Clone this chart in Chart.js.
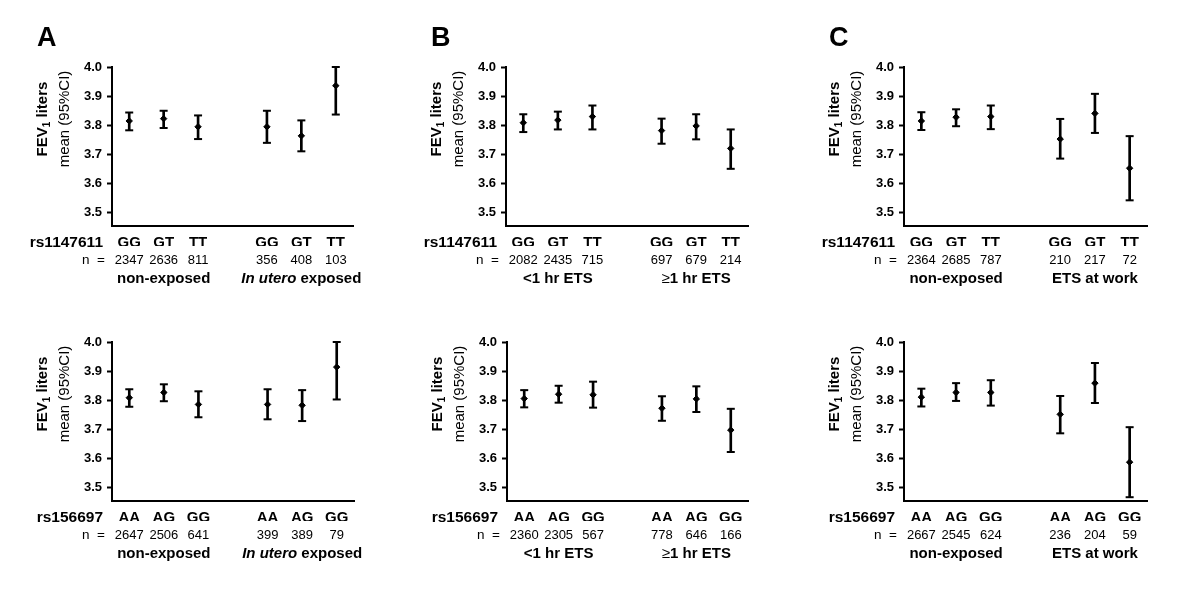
<!DOCTYPE html>
<html lang="en">
<head>
  <meta charset="UTF-8">
  <title>FEV1 by genotype and ETS exposure</title>
  <script src="https://cdn.jsdelivr.net/npm/chart.js"></script>
  <style>
    body { margin: 0; background: #fff; }
    #wrap { position: relative; width: 1200px; height: 596px; }
    #wrap canvas { position: absolute; }
  </style>
</head>
<body>

<div id="wrap"></div>

<script>
// categories
var snps = ['rs1147611', 'rs156697'];
var genoTop = ['GG', 'GT', 'TT', '', 'GG', 'GT', 'TT'];
var genoBottom = ['AA', 'AG', 'GG', '', 'AA', 'AG', 'GG'];
var panelLetters = ['A', 'B', 'C'];
var groupsA = ['non-exposed', 'In utero exposed'];
var groupsB = ['<1 hr ETS', '≥1 hr ETS'];
var groupsC = ['non-exposed', 'ETS at work'];

// y axis ticks
var yTicks = [3.5, 3.6, 3.7, 3.8, 3.9, 4.0];
var yMin = 3.455;
var yMax = 4.0;

// n per genotype (null = gap between the two groups)
var nA1 = [2347, 2636, 811, null, 356, 408, 103];
var nB1 = [2082, 2435, 715, null, 697, 679, 214];
var nC1 = [2364, 2685, 787, null, 210, 217, 72];
var nA2 = [2647, 2506, 641, null, 399, 389, 79];
var nB2 = [2360, 2305, 567, null, 778, 646, 166];
var nC2 = [2667, 2545, 624, null, 236, 204, 59];

// FEV1 means and 95% CI
var meanA1 = [3.815, 3.823, 3.795, null, 3.795, 3.764, 3.936];
var lowA1  = [3.783, 3.791, 3.753, null, 3.740, 3.711, 3.837];
var highA1 = [3.844, 3.850, 3.834, null, 3.850, 3.817, 4.000];

var meanB1 = [3.809, 3.818, 3.830, null, 3.782, 3.798, 3.721];
var lowB1  = [3.777, 3.786, 3.786, null, 3.737, 3.752, 3.651];
var highB1 = [3.838, 3.847, 3.868, null, 3.823, 3.838, 3.786];

var meanC1 = [3.815, 3.828, 3.830, null, 3.753, 3.841, 3.653];
var lowC1  = [3.784, 3.797, 3.787, null, 3.686, 3.774, 3.543];
var highC1 = [3.845, 3.855, 3.868, null, 3.822, 3.908, 3.763];

var meanA2 = [3.809, 3.827, 3.786, null, 3.786, 3.783, 3.914];
var lowA2  = [3.778, 3.797, 3.742, null, 3.735, 3.729, 3.803];
var highA2 = [3.838, 3.855, 3.831, null, 3.838, 3.835, 4.000];

var meanB2 = [3.806, 3.821, 3.819, null, 3.773, 3.805, 3.698];
var lowB2  = [3.776, 3.792, 3.775, null, 3.730, 3.760, 3.623];
var highB2 = [3.835, 3.850, 3.864, null, 3.814, 3.848, 3.771];

var meanC2 = [3.811, 3.827, 3.827, null, 3.752, 3.859, 3.588];
var lowC2  = [3.779, 3.798, 3.782, null, 3.687, 3.791, 3.468];
var highC2 = [3.840, 3.859, 3.869, null, 3.815, 3.928, 3.708];

var FONT = "'Liberation Sans', Arial, sans-serif";
Chart.defaults.font.family = FONT;
Chart.defaults.color = '#000';

// panel list: plot box in page pixels
var panels = [
  { col: 0, row: 0, letter: panelLetters[0], snp: snps[0], geno: genoTop, groups: groupsA, n: nA1, mean: meanA1, low: lowA1, high: highA1, box: { left: 112, top: 67, right: 353, bottom: 226 } },
  { col: 1, row: 0, letter: panelLetters[1], snp: snps[0], geno: genoTop, groups: groupsB, n: nB1, mean: meanB1, low: lowB1, high: highB1, box: { left: 506, top: 67, right: 748, bottom: 226 } },
  { col: 2, row: 0, letter: panelLetters[2], snp: snps[0], geno: genoTop, groups: groupsC, n: nC1, mean: meanC1, low: lowC1, high: highC1, box: { left: 904, top: 67, right: 1147, bottom: 226 } },
  { col: 0, row: 1, letter: null, snp: snps[1], geno: genoBottom, groups: groupsA, n: nA2, mean: meanA2, low: lowA2, high: highA2, box: { left: 112, top: 342, right: 354, bottom: 501 } },
  { col: 1, row: 1, letter: null, snp: snps[1], geno: genoBottom, groups: groupsB, n: nB2, mean: meanB2, low: lowB2, high: highB2, box: { left: 507, top: 342, right: 748, bottom: 501 } },
  { col: 2, row: 1, letter: null, snp: snps[1], geno: genoBottom, groups: groupsC, n: nC2, mean: meanC2, low: lowC2, high: highC2, box: { left: 904, top: 342, right: 1147, bottom: 501 } }
];

var CW = 400, CH = 298, XAXIS_H = 20;

// split a group label into styled pieces
function richPieces(text) {
  if (text.indexOf('In utero') === 0) {
    return [{ t: 'In utero', f: 'italic bold 15px ' + FONT }, { t: text.slice(8), f: 'bold 15px ' + FONT }];
  }
  if (text.charAt(0) === '≥') {
    return [{ t: '≥', f: '15px ' + FONT }, { t: text.slice(1), f: 'bold 15px ' + FONT }];
  }
  return [{ t: text, f: 'bold 15px ' + FONT }];
}

function drawPieces(ctx, pieces, cx, y) {
  var total = 0;
  pieces.forEach(function (p) { ctx.font = p.f; total += ctx.measureText(p.t).width; });
  var x = cx - total / 2;
  ctx.textAlign = 'left';
  pieces.forEach(function (p) {
    ctx.font = p.f;
    ctx.fillText(p.t, x, y);
    x += ctx.measureText(p.t).width;
  });
}

// text around each panel
var panelText = {
  id: 'panelText',
  afterDraw: function (chart, args, opts) {
    var p = opts.panel;
    var ctx = chart.ctx;
    var area = chart.chartArea;
    var xs = chart.scales.x;
    ctx.save();
    ctx.fillStyle = '#000';
    ctx.textBaseline = 'middle';

    if (p.letter) {
      ctx.font = 'bold 27px ' + FONT;
      ctx.textAlign = 'left';
      ctx.fillText(p.letter, area.left - 75, 39);
    }

    // y titles, rotated
    var midY = area.top + 52;
    ctx.save();
    ctx.translate(area.left - 69, midY);
    ctx.rotate(-Math.PI / 2);
    var bold = 'bold 15px ' + FONT, sub = 'bold 10px ' + FONT;
    ctx.font = bold; var w1 = ctx.measureText('FEV').width;
    ctx.font = sub; var w2 = ctx.measureText('1').width;
    ctx.font = bold; var w3 = ctx.measureText(' liters').width;
    var x0 = -(w1 + w2 + w3) / 2;
    ctx.textAlign = 'left';
    ctx.font = bold; ctx.fillText('FEV', x0, 0);
    ctx.font = sub; ctx.fillText('1', x0 + w1, 4);
    ctx.font = bold; ctx.fillText(' liters', x0 + w1 + w2, 0);
    ctx.restore();

    ctx.save();
    ctx.translate(area.left - 47, midY);
    ctx.rotate(-Math.PI / 2);
    ctx.font = '15px ' + FONT;
    ctx.textAlign = 'center';
    ctx.fillText('mean (95%CI)', 0, 0);
    ctx.restore();

    // snp name and n row
    ctx.textAlign = 'right';
    ctx.font = 'bold 15.5px ' + FONT;
    ctx.fillText(p.snp, area.left - 9, area.bottom + 17);
    ctx.font = '13.5px ' + FONT;
    ctx.fillText('n  =', area.left - 7, area.bottom + 34);

    ctx.textAlign = 'center';
    ctx.font = '13px ' + FONT;
    p.n.forEach(function (v, i) {
      if (v === null) return;
      ctx.fillText(String(v), xs.getPixelForValue(i), area.bottom + 34);
    });

    // group labels under the middle genotype of each group
    drawPieces(ctx, richPieces(p.groups[0]), xs.getPixelForValue(1), area.bottom + 53);
    drawPieces(ctx, richPieces(p.groups[1]), xs.getPixelForValue(5), area.bottom + 53);
    ctx.restore();
  }
};

var wrap = document.getElementById('wrap');

panels.forEach(function (p) {
  var cLeft = p.col * CW, cTop = p.row * CH;
  var canvas = document.createElement('canvas');
  canvas.width = CW; canvas.height = CH;
  canvas.style.left = cLeft + 'px';
  canvas.style.top = cTop + 'px';
  wrap.appendChild(canvas);

  var yWidth = p.box.left - cLeft;
  var pad = {
    left: 0,
    top: p.box.top - cTop,
    right: cLeft + CW - p.box.right,
    bottom: cTop + CH - p.box.bottom - XAXIS_H
  };

  new Chart(canvas.getContext('2d'), {
    type: 'bar',
    data: {
      labels: p.geno,
      datasets: [
        {
          type: 'line', data: p.mean, showLine: false, order: 0, clip: false,
          pointStyle: 'rectRot', pointRadius: 3.2, borderWidth: 1,
          backgroundColor: '#000', borderColor: '#000'
        },
        {
          type: 'line', data: p.low, showLine: false, order: 1, clip: false,
          pointStyle: 'line', pointRadius: 4, borderWidth: 2, borderColor: '#000'
        },
        {
          type: 'line', data: p.high, showLine: false, order: 1, clip: false,
          pointStyle: 'line', pointRadius: 4, borderWidth: 2, borderColor: '#000'
        },
        {
          type: 'bar', order: 2,
          data: p.low.map(function (l, i) { return l === null ? null : [l, p.high[i]]; }),
          barThickness: 2, backgroundColor: '#000', borderWidth: 0
        }
      ]
    },
    options: {
      responsive: false,
      animation: false,
      devicePixelRatio: 1,
      layout: { padding: pad },
      plugins: {
        legend: { display: false },
        tooltip: { enabled: false },
        panelText: { panel: p }
      },
      scales: {
        x: {
          offset: true,
          grid: { display: true, drawOnChartArea: false, drawTicks: false },
          border: { display: true, color: '#000', width: 2 },
          ticks: { font: { size: 15, weight: 'bold' }, color: '#000', padding: 8, maxRotation: 0, autoSkip: false },
          afterFit: function (s) { s.height = XAXIS_H; }
        },
        y: {
          min: yMin, max: yMax,
          grid: { drawOnChartArea: false, drawTicks: true, tickLength: 5, tickWidth: 2, tickColor: '#000' },
          border: { display: true, color: '#000', width: 2 },
          ticks: {
            font: { size: 13, weight: 'bold' }, color: '#000', padding: 5,
            callback: function (v) { return Number(v).toFixed(1); }
          },
          afterBuildTicks: function (axis) {
            axis.ticks = yTicks.map(function (v) { return { value: v }; });
          },
          afterFit: function (s) { s.width = yWidth; }
        }
      }
    },
    plugins: [panelText]
  });
});
</script>

</body>
</html>
